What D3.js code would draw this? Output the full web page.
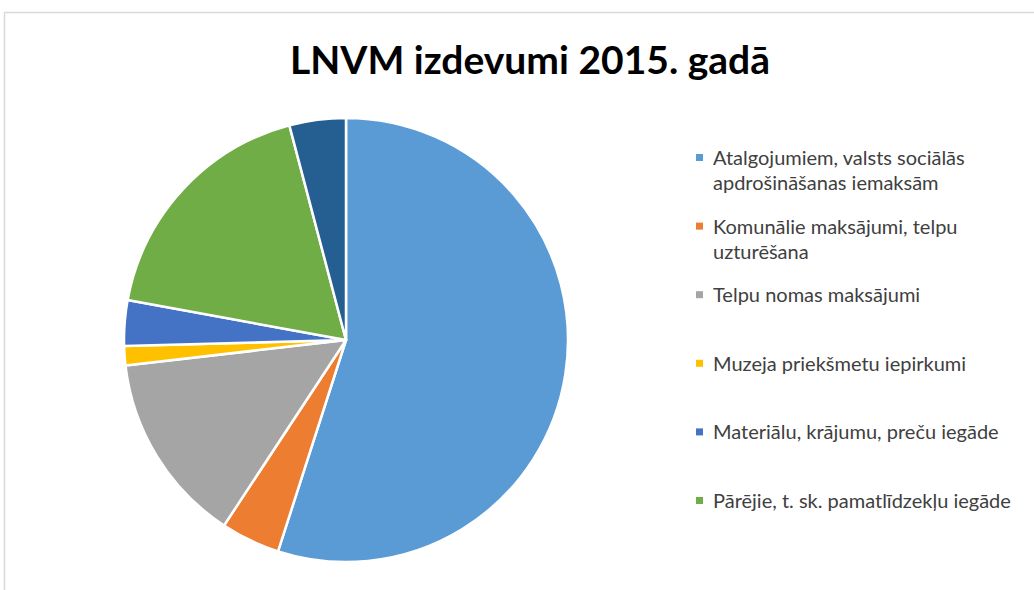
<!DOCTYPE html>
<html>
<head>
<meta charset="utf-8">
<script src="https://cdn.jsdelivr.net/npm/d3@7"></script>
<style>
  body { margin: 0; background: #fff; }
  svg { display: block; }
</style>
</head>
<body>
<svg id="chart"></svg>
<script>
const title = 'LNVM izdevumi 2015. gadā'
const categories = [
  'Atalgojumiem, valsts sociālās apdrošināšanas iemaksām',
  'Komunālie maksājumi, telpu uzturēšana',
  'Telpu nomas maksājumi',
  'Muzeja priekšmetu iepirkumi',
  'Materiālu, krājumu, preču iegāde',
  'Pārējie, t. sk. pamatlīdzekļu iegāde',
  null // 7th slice, its legend entry is cut off in the original
]
const values = [54.9, 4.3, 13.9, 1.4, 3.3, 18.0, 4.1]
const colors = ['#5B9BD5', '#ED7D31', '#A5A5A5', '#FFC000', '#4472C4', '#70AD47', '#255E91']

const width = 1034
const height = 590
const cx = 346
const cy = 340
const radius = 222

const data = values.map((v, i) => ({ name: categories[i], value: v, color: colors[i] }))

const svg = d3.select('#chart')
  .attr('width', width)
  .attr('height', height)

// chart area border (only top and left edges visible)
svg.append('path')
  .attr('d', `M4.5,${height} V12.5 H${width}`)
  .attr('fill', 'none')
  .attr('stroke', '#d9d9d9')
  .attr('stroke-width', 1.5)

svg.append('text')
  .attr('x', 530)
  .attr('y', 74)
  .attr('text-anchor', 'middle')
  .attr('font-family', 'Lato, "Open Sans", sans-serif')
  .attr('font-weight', 'bold')
  .attr('font-size', 39)
  .attr('fill', '#000')
  .text(title)

const pie = d3.pie().sort(null).value(d => d.value)
const arc = d3.arc().innerRadius(0).outerRadius(radius)

svg.append('g')
  .attr('transform', `translate(${cx},${cy})`)
  .selectAll('path')
  .data(pie(data))
  .enter()
  .append('path')
  .attr('d', arc)
  .attr('fill', d => d.data.color)
  .attr('stroke', '#fff')
  .attr('stroke-width', 2.5)
  .attr('stroke-linejoin', 'round')

// legend
const legendData = data.filter(d => d.name)
const legendY = d3.scalePoint()
  .domain(legendData.map(d => d.name))
  .range([165, 508])
const lineHeight = 25
const maxTextWidth = 312

const legend = svg.append('g')
  .attr('font-family', 'Lato, "Open Sans", sans-serif')
  .attr('font-size', 20)
  .attr('fill', '#404040')

legendData.forEach(d => {
  const y = legendY(d.name)
  legend.append('rect')
    .attr('x', 696)
    .attr('y', y - 11)
    .attr('width', 7)
    .attr('height', 7)
    .attr('fill', d.color)

  const text = legend.append('text').attr('x', 713).attr('y', y)
  const words = d.name.split(' ')
  let line = []
  let tspan = text.append('tspan').attr('x', 713).attr('y', y)
  let lineNo = 0
  words.forEach(w => {
    line.push(w)
    tspan.text(line.join(' '))
    if (tspan.node().getComputedTextLength() > maxTextWidth && line.length > 1) {
      line.pop()
      tspan.text(line.join(' '))
      line = [w]
      lineNo++
      tspan = text.append('tspan').attr('x', 713).attr('y', y + lineNo * lineHeight).text(w)
    }
  })
})
</script>
</body>
</html>
